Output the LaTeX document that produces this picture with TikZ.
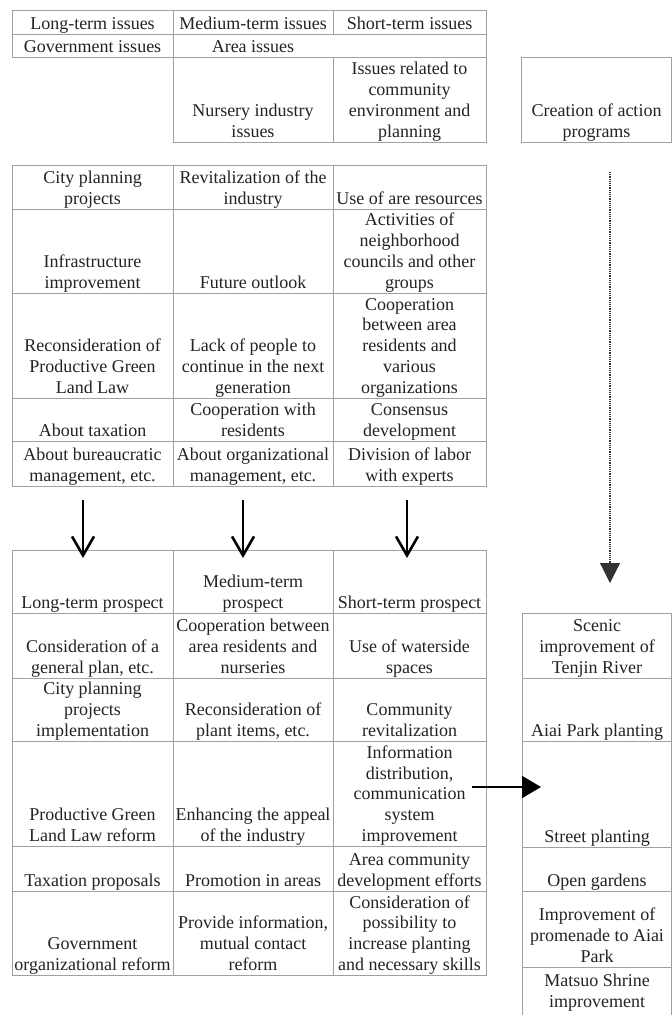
\documentclass[tikz,border=0pt]{standalone}
\usepackage{fontspec}
\setmainfont{Liberation Serif}
\usetikzlibrary{arrows.meta}
\definecolor{cellgray}{RGB}{160,160,160}
\definecolor{inkgray}{RGB}{35,35,35}
\tikzset{
  cellline/.style={draw=cellgray, line width=1pt},
  txt/.style={anchor=south, inner sep=0pt, align=center, text=inkgray,
              font=\fontsize{18}{20.7}\selectfont},
  bigdown/.style={draw=black, line width=2.6pt, -{Straight Barb[length=19pt,width=22pt]}},
  rightarr/.style={draw=black, line width=1.8pt, -{Triangle[length=19pt,width=22pt]}},
  dotarr/.style={draw=black!80, line width=1.1pt, dash pattern=on 1.1pt off 1.1pt,
                 -{Triangle[length=20pt,width=20pt,sep=0pt]}},
}
\newcommand\tc[4]{\node[txt] (#1) at (#2,#3+1.5) {#4\strut};}
\begin{document}
\begin{tikzpicture}[x=1pt,y=-1pt]
\useasboundingbox (0,0) rectangle (672,1015);
% ---------- top table ----------
\draw[cellline] (12,10) rectangle (486,34);
\draw[cellline] (173,10) -- (173,34) (333,10) -- (333,34);
\draw[cellline] (12,34) rectangle (486,57);
\draw[cellline] (173,34) -- (173,57);
\draw[cellline] (173,57) rectangle (486,142);
\draw[cellline] (333,57) -- (333,142);
\draw[cellline] (521,57) rectangle (671.5,142);
\tc{h1}{92.5}{34}{Long-term issues}
\tc{h2}{253}{34}{Medium-term issues}
\tc{h3}{409.5}{34}{Short-term issues}
\tc{gov}{92.5}{57}{Government issues}
\tc{area}{253}{57}{Area issues}
\tc{nurs}{253}{142}{Nursery industry\\issues}
\tc{comm}{409.5}{142}{Issues related to\\community\\environment and\\planning}
\tc{act}{596.5}{142}{Creation of action\\programs}
% ---------- middle table ----------
\draw[cellline] (12,165) rectangle (486,486);
\foreach \yy in {209,293,398,441} \draw[cellline] (12,\yy) -- (486,\yy);
\draw[cellline] (173,165) -- (173,486) (333,165) -- (333,486);
\tc{m11}{92.5}{209}{City planning\\projects}
\tc{m12}{253}{209}{Revitalization of the\\industry}
\tc{m13}{409.5}{209}{Use of are resources}
\tc{m21}{92.5}{293}{Infrastructure\\improvement}
\tc{m22}{253}{293}{Future outlook}
\tc{m23}{409.5}{293}{Activities of\\neighborhood\\councils and other\\groups}
\tc{m31}{92.5}{398}{Reconsideration of\\Productive Green\\Land Law}
\tc{m32}{253}{398}{Lack of people to\\continue in the next\\generation}
\tc{m33}{409.5}{398}{Cooperation\\between area\\residents and\\various\\organizations}
\tc{m41}{92.5}{441}{About taxation}
\tc{m42}{253}{441}{Cooperation with\\residents}
\tc{m43}{409.5}{441}{Consensus\\development}
\tc{m51}{92.5}{486}{About bureaucratic\\management, etc.}
\tc{m52}{253}{486}{About organizational\\management, etc.}
\tc{m53}{409.5}{486}{Division of labor\\with experts}
% ---------- bottom table ----------
\draw[cellline] (12,550) rectangle (486,975);
\foreach \yy in {613,678,741,846,891} \draw[cellline] (12,\yy) -- (486,\yy);
\draw[cellline] (173,550) -- (173,975) (333,550) -- (333,975);
\tc{b11}{92.5}{613}{Long-term prospect}
\tc{b12}{253}{613}{Medium-term\\prospect}
\tc{b13}{409.5}{613}{Short-term prospect}
\tc{b21}{92.5}{678}{Consideration of a\\general plan, etc.}
\tc{b22}{253}{678}{Cooperation between\\area residents and\\nurseries}
\tc{b23}{409.5}{678}{Use of waterside\\spaces}
\tc{b31}{92.5}{741}{City planning\\projects\\implementation}
\tc{b32}{253}{741}{Reconsideration of\\plant items, etc.}
\tc{b33}{409.5}{741}{Community\\revitalization}
\tc{b41}{92.5}{846}{Productive Green\\Land Law reform}
\tc{b42}{253}{846}{Enhancing the appeal\\of the industry}
\tc{b43}{409.5}{846}{Information\\distribution,\\communication\\system\\improvement}
\tc{b51}{92.5}{891}{Taxation proposals}
\tc{b52}{253}{891}{Promotion in areas}
\tc{b53}{409.5}{891}{Area community\\development efforts}
\tc{b61}{92.5}{975}{Government\\organizational reform}
\tc{b62}{253}{975}{Provide information,\\mutual contact\\reform}
\tc{b63}{409.5}{975}{Consideration of\\possibility to\\increase planting\\and necessary skills}
% ---------- right column ----------
\draw[cellline] (522,613) -- (522,1015) (671.5,613) -- (671.5,1015);
\foreach \yy in {613,678,741,847,891,967} \draw[cellline] (522,\yy) -- (672,\yy);
\tc{r1}{597}{678}{Scenic\\improvement of\\Tenjin River}
\tc{r2}{597}{741}{Aiai Park planting}
\tc{r3}{597}{847}{Street planting}
\tc{r4}{597}{891}{Open gardens}
\tc{r5}{597}{967}{Improvement of\\promenade to Aiai\\Park}
\tc{r6}{597}{1012}{Matsuo Shrine\\improvement}
% ---------- connectors ----------
\coordinate (d1s) at (83,500);  \coordinate (d1e) at (83,558);
\coordinate (d2s) at (243,500); \coordinate (d2e) at (243,558);
\coordinate (d3s) at (407,500); \coordinate (d3e) at (407,558);
\draw[bigdown] (d1s) -- (d1e);
\draw[bigdown] (d2s) -- (d2e);
\draw[bigdown] (d3s) -- (d3e);
\coordinate (rs) at (472,787); \coordinate (re) at (541,787);
\draw[rightarr] (rs) -- (re);
\coordinate (ds) at (610,172); \coordinate (de) at (610,583);
\draw[dotarr] (ds) -- (de);
\end{tikzpicture}
\end{document}
